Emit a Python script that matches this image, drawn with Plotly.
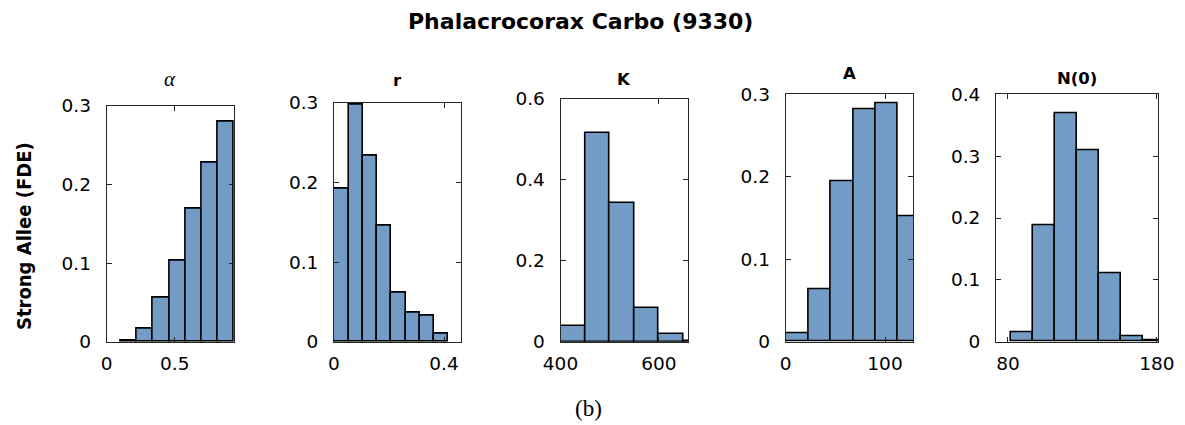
import plotly.graph_objects as go

# ---------------- data ----------------
alpha_edges = [0.105, 0.22, 0.338, 0.46, 0.58, 0.698, 0.816, 0.936]
alpha_vals = [0.001, 0.0165, 0.056, 0.1035, 0.169, 0.228, 0.280]

r_edges = [0.0, 0.0545, 0.1055, 0.1575, 0.2084, 0.2607, 0.3116, 0.3625, 0.4135]
r_vals = [0.192, 0.297, 0.233, 0.146, 0.061, 0.036, 0.033, 0.0096]

K_edges = [400, 450, 500, 550, 600, 650, 700]
K_vals = [0.039, 0.517, 0.344, 0.084, 0.018, 0.002]

A_edges = [0.0, 22.8, 45.3, 68.1, 90.6, 113.1, 135.6]
A_vals = [0.0097, 0.064, 0.194, 0.282, 0.289, 0.152]

N0_edges = [82, 96.7, 111.5, 126.3, 141, 155.8, 170.6, 185.4]
N0_vals = [0.015, 0.188, 0.369, 0.309, 0.111, 0.009, 0.0027]

panel_titles = ["<i>α</i>", "<b>r</b>", "<b>K</b>", "<b>A</b>", "<b>N(0)</b>"]
x_ranges = [[0, 0.936], [0, 0.4607], [400, 660], [0, 128.5], [72, 181]]
x_tickvals = [[0, 0.5], [0, 0.4], [400, 600], [0, 100], [80, 180]]
x_ticktext = [["0", "0.5"], ["0", "0.4"], ["400", "600"], ["0", "100"], ["80", "180"]]
y_ranges = [[0, 0.3], [0, 0.3], [0, 0.6], [0, 0.3], [0, 0.4]]
y_tickvals = [[0, 0.1, 0.2, 0.3], [0, 0.1, 0.2, 0.3], [0, 0.2, 0.4, 0.6],
              [0, 0.1, 0.2, 0.3], [0, 0.1, 0.2, 0.3, 0.4]]
y_ticktext = [["0", "0.1", "0.2", "0.3"], ["0", "0.1", "0.2", "0.3"], ["0", "0.2", "0.4", "0.6"],
              ["0", "0.1", "0.2", "0.3"], ["0", "0.1", "0.2", "0.3", "0.4"]]

main_title = "Phalacrocorax Carbo (9330)"
y_title = "Strong Allee (FDE)"
caption = "(b)"

# ---------------- layout geometry (pixels) ----------------
W, H = 1185, 425
px_x = [(106.7, 234.0), (334.0, 460.7), (560.5, 688.3), (785.7, 913.3), (996.0, 1158.3)]
px_top = [105.7, 102.7, 99.0, 94.3, 94.3]
px_bottom = 341.7
title_y_px = [79, 81, 79, 74, 78]

BAR_COLOR = "#729CC6"
AX_COLOR = "#262626"

edges_list = [alpha_edges, r_edges, K_edges, A_edges, N0_edges]
vals_list = [alpha_vals, r_vals, K_vals, A_vals, N0_vals]

fig = go.Figure()
layout = dict(
    template="none",
    width=W, height=H, autosize=False,
    margin=dict(l=0, r=0, t=0, b=0, pad=0, autoexpand=False),
    paper_bgcolor="white", plot_bgcolor="white",
    showlegend=False,
    bargap=0,
)

annotations = []
for i in range(5):
    edges = edges_list[i]
    vals = vals_list[i]
    centers = [(edges[j] + edges[j + 1]) / 2 for j in range(len(vals))]
    widths = [edges[j + 1] - edges[j] for j in range(len(vals))]
    xa = "x" if i == 0 else f"x{i+1}"
    ya = "y" if i == 0 else f"y{i+1}"
    fig.add_trace(go.Bar(
        x=centers, y=vals, width=widths,
        marker=dict(color=BAR_COLOR, line=dict(color="black", width=1.6)),
        xaxis=xa, yaxis=ya, hoverinfo="skip",
    ))
    x0, x1 = px_x[i]
    dom_x = [x0 / W, x1 / W]
    dom_y = [1 - px_bottom / H, 1 - px_top[i] / H]
    common = dict(
        automargin=False,
        showline=True, linecolor=AX_COLOR, linewidth=1, mirror="ticks",
        ticks="inside", ticklen=5, tickcolor=AX_COLOR, tickwidth=1,
        showgrid=False, zeroline=False,
        tickfont=dict(family="DejaVu Sans", size=18.5, color="black"),
    )
    layout["xaxis" if i == 0 else f"xaxis{i+1}"] = dict(
        domain=dom_x, anchor=ya, range=x_ranges[i],
        tickmode="array", tickvals=x_tickvals[i], ticktext=x_ticktext[i],
        ticklabelstandoff=5, **common)
    layout["yaxis" if i == 0 else f"yaxis{i+1}"] = dict(
        domain=dom_y, anchor=xa, range=y_ranges[i],
        tickmode="array", tickvals=y_tickvals[i], ticktext=y_ticktext[i],
        ticklabelstandoff=11, **common)
    fam = "Liberation Serif" if i == 0 else "DejaVu Sans"
    annotations.append(dict(
        text=panel_titles[i], xref="paper", yref="paper",
        x=(x0 + x1) / 2 / W, y=1 - title_y_px[i] / H,
        xanchor="center", yanchor="middle", showarrow=False,
        font=dict(family=fam, size=21 if i == 0 else 16.5, color="black"),
    ))

annotations.append(dict(
    text="<b>" + main_title + "</b>", xref="paper", yref="paper",
    x=580 / W, y=1 - 21 / H, xanchor="center", yanchor="middle", showarrow=False,
    font=dict(family="DejaVu Sans", size=22, color="black"),
))
annotations.append(dict(
    text="<b>" + y_title + "</b>", xref="paper", yref="paper",
    x=24 / W, y=1 - 236 / H, xanchor="center", yanchor="middle", showarrow=False,
    textangle=-90,
    font=dict(family="Liberation Sans Narrow, DejaVu Sans Condensed, Liberation Sans", size=20, color="black"),
))
annotations.append(dict(
    text=caption, xref="paper", yref="paper",
    x=588 / W, y=1 - 408 / H, xanchor="center", yanchor="middle", showarrow=False,
    font=dict(family="Liberation Serif", size=23, color="black"),
))
layout["annotations"] = annotations
fig.update_layout(**layout)
fig.write_html("out.html")
